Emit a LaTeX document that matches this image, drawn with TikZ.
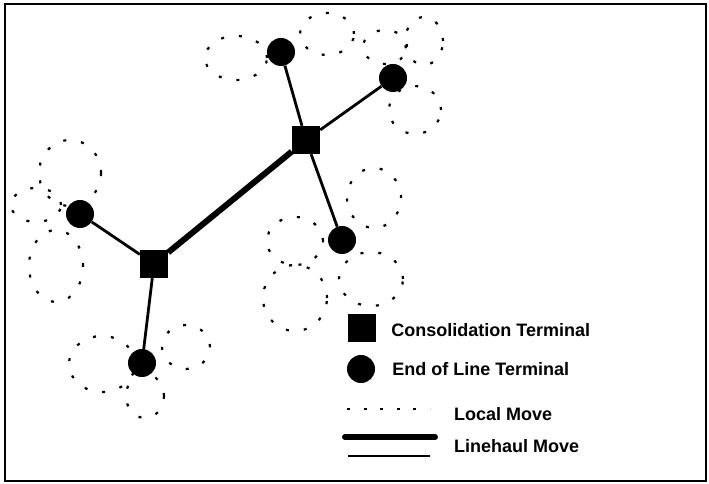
\documentclass[tikz,border=0pt]{standalone}
\usepackage{fontspec}
\setmainfont{Liberation Sans}
\usetikzlibrary{positioning}
\tikzset{
  cterm/.style={rectangle,fill=black,minimum size=28pt,inner sep=0pt},
  eterm/.style={circle,fill=black,minimum size=28pt,inner sep=0pt},
  localmove/.style={line width=2.2pt,dash pattern=on 3pt off 15pt},
  linehaul/.style={line width=6pt},
  feeder/.style={line width=2.8pt},
  legtext/.style={inner sep=0pt,font=\bfseries\fontsize{18}{20}\selectfont}
}
\begin{document}
\begin{tikzpicture}[x=1pt,y=1pt]
      \useasboundingbox (0,0) rectangle (709,484);
      \draw[line width=2.8pt] (5,3) rectangle (706,480);

      \node[cterm] (c1) at (306,344) {};
      \node[cterm] (c2) at (154,220) {};
      \node[eterm] (e1) at (281,432) {};
      \node[eterm] (e2) at (393,406) {};
      \node[eterm] (e3) at (342,244) {};
      \node[eterm] (e4) at (80,270) {};
      \node[eterm] (e5) at (142,121) {};

      \draw[linehaul] (c2) -- (c1);
      \draw[feeder] (c1) -- (e1);
      \draw[feeder] (c1) -- (e2);
      \draw[feeder] (c1) -- (e3);
      \draw[feeder] (c2) -- (e4);
      \draw[feeder] (c2) -- (e5);

      \draw[localmove] (e1) ++(-45pt,-6pt) ellipse [x radius=31pt,y radius=22pt];
      \draw[localmove] (e1) ++(46pt,18pt) ellipse [x radius=27pt,y radius=21pt];
      \draw[localmove] (e2) ++(-8pt,31pt) ellipse [x radius=22pt,y radius=17pt];
      \draw[localmove] (e2) ++(31pt,37pt) ellipse [x radius=19pt,y radius=24pt];
      \draw[localmove] (e2) ++(22pt,-32pt) ellipse [x radius=26pt,y radius=24pt];
      \draw[localmove] (e3) ++(32pt,42pt) ellipse [x radius=27pt,y radius=30pt];
      \draw[localmove] (e3) ++(-47pt,-1pt) ellipse [x radius=28pt,y radius=24pt];
      \draw[localmove] (e3) ++(-47pt,-58pt) ellipse [x radius=32pt,y radius=33pt];
      \draw[localmove] (e3) ++(29pt,-39pt) ellipse [x radius=32pt,y radius=27pt];
      \draw[localmove] (e4) ++(-10pt,41pt) ellipse [x radius=31pt,y radius=33pt];
      \draw[localmove] (e4) ++(-44pt,9pt) ellipse [x radius=25pt,y radius=17pt];
      \draw[localmove] (e4) ++(-24pt,-52pt) ellipse [x radius=27pt,y radius=36pt];
      \draw[localmove] (e5) ++(-40pt,-1pt) ellipse [x radius=33pt,y radius=28pt];
      \draw[localmove] (e5) ++(44pt,16pt) ellipse [x radius=24pt,y radius=22pt];
      \draw[localmove] (e5) ++(3pt,-33pt) ellipse [x radius=19pt,y radius=22pt];

      \node[cterm] (lc) at (362,156) {};
      \node[eterm] (le) at (361,115) {};
      \node[legtext,right=15pt of lc,yshift=-2pt] (tc) {Consolidation Terminal};
      \node[legtext,right=17pt of le] (te) {End of Line Terminal};

      \coordinate (d1) at (347,75);
      \coordinate (d2) at (430,75);
      \coordinate (h1) at (345,47);
      \coordinate (h2) at (435,47);
      \coordinate (f1) at (348,28);
      \coordinate (f2) at (430,28);
      \draw[localmove,dash pattern=on 3pt off 13.6pt] (d1) -- (d2);
      \draw[linehaul,line cap=round] (h1) -- (h2);
      \draw[feeder] (f1) -- (f2);
      \node[legtext,anchor=west] (tl) at (454,70) {Local Move};
      \node[legtext,anchor=west] (th) at (454,38) {Linehaul Move};
    \end{tikzpicture}
\end{document}
